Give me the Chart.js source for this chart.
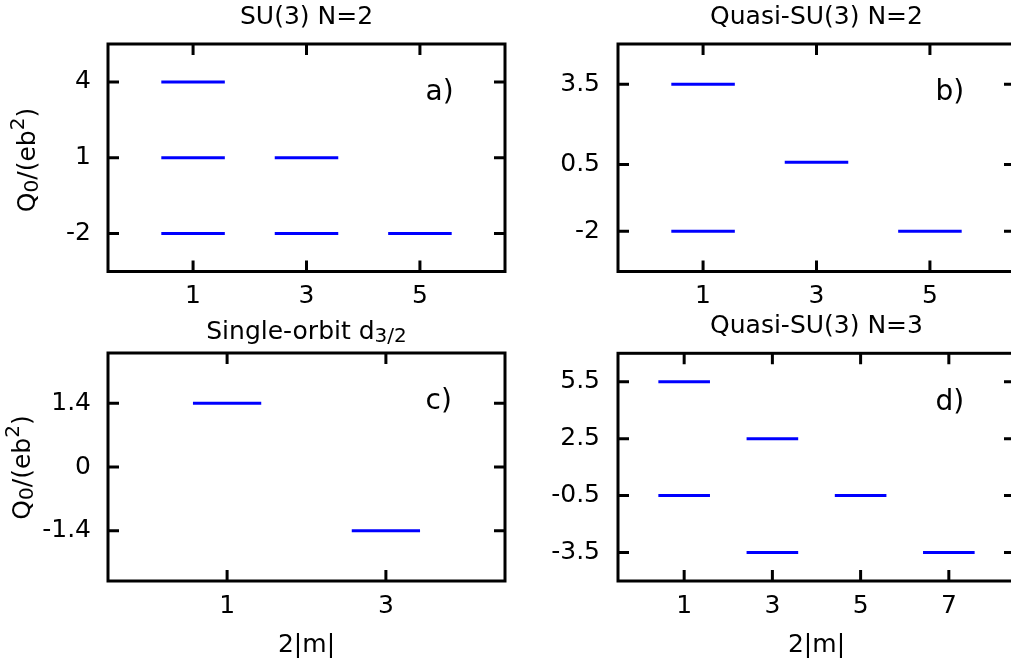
<!DOCTYPE html>
<html lang="en">
<head>
<meta charset="utf-8" />
<title>Q0 levels per 2|m|</title>
<style>
html,body{margin:0;padding:0;background:#fff;overflow:hidden;width:1011px;height:666px}
canvas{position:absolute}
</style>
</head>
<body>
<canvas id="pa" width="520" height="310" style="left:0;top:0"></canvas>
<canvas id="pb" width="510" height="310" style="left:520px;top:0"></canvas>
<canvas id="pc" width="520" height="356" style="left:0;top:310px"></canvas>
<canvas id="pd" width="510" height="356" style="left:520px;top:310px"></canvas>

<script src="https://cdn.jsdelivr.net/npm/chart.js@4.4.1"></script>
<script>
/* ─── data: 2|m| of each level and its Q0 (e b^2) ─── */
const suX   = [1, 1, 1, 3, 3, 5];
const suQ   = [4, 1, -2, 1, -2, -2];
const qs2X  = [1, 1, 3, 5];
const qs2Q  = [3.5, -2, 0.58, -2];
const d32X  = [1, 3];
const d32Q  = [1.4, -1.4];
const qs3X  = [1, 1, 3, 3, 5, 7];
const qs3Q  = [5.5, -0.5, 2.5, -3.5, -0.5, -3.5];

/* tick labels */
const suTicksX  = [1, 3, 5];
const suTicksY  = [-2, 1, 4];
const qs2TicksX = [1, 3, 5];
const qs2TicksY = [-2, 0.5, 3.5];
const d32TicksX = [1, 3];
const d32TicksY = [-1.4, 0, 1.4];
const qs3TicksX = [1, 3, 5, 7];
const qs3TicksY = [-3.5, -0.5, 2.5, 5.5];

/* titles with sub/superscripts: [text, 'sub'|'sup'|undefined] */
const yTitle   = [['Q'], ['0','sub'], ['/(eb'], ['2','sup'], [')']];
const suTitle  = [['SU(3) N=2']];
const qs2Title = [['Quasi-SU(3) N=2']];
const d32Title = [['Single-orbit d'], ['3/2','sub']];
const qs3Title = [['Quasi-SU(3) N=3']];

const FONT = '"DejaVu Sans", Verdana, sans-serif';
const FS = 25;
const TAG_FS = 28;
Chart.defaults.font.family = FONT;
Chart.defaults.font.size = FS;
Chart.defaults.color = '#000';

const TICK = 11;   // inward tick length, px

/* draws a line of text with small raised/lowered parts, centred on (x,y) */
function drawRich(ctx, parts, x, y, rotate){
    ctx.save();
    ctx.translate(x, y);
    if (rotate) ctx.rotate(-Math.PI/2);
    ctx.fillStyle = '#000';
    ctx.textBaseline = 'middle';
    ctx.textAlign = 'left';
    const fontOf = p => (p[1] ? FS*0.8 : FS) + 'px ' + FONT;
    let w = 0;
    parts.forEach(p=>{ ctx.font = fontOf(p); w += ctx.measureText(p[0]).width; });
    let cx = -w/2;
    parts.forEach(p=>{
        ctx.font = fontOf(p);
        const dy = p[1]==='sub' ? FS*0.2 : p[1]==='sup' ? -FS*0.38 : 0;
        ctx.fillText(p[0], cx, dy);
        cx += ctx.measureText(p[0]).width;
    });
    ctx.restore();
}

/* box, mirrored inward ticks, titles and the a)/b)/c)/d) tag */
const framePlugin = {
    id:'frame',
    afterDraw(chart, args, opts){
        const {ctx, chartArea:{left,top,right,bottom}, scales:{x,y}} = chart;
        ctx.save();
        ctx.strokeStyle = '#000';
        ctx.lineWidth = 3;
        ctx.lineCap = 'butt';
        ctx.beginPath();
        x.ticks.forEach(t=>{
            const px = x.getPixelForValue(t.value);
            ctx.moveTo(px,bottom); ctx.lineTo(px,bottom-TICK);
            ctx.moveTo(px,top);    ctx.lineTo(px,top+TICK);
        });
        y.ticks.forEach(t=>{
            const py = y.getPixelForValue(t.value);
            ctx.moveTo(left,py);  ctx.lineTo(left+TICK,py);
            ctx.moveTo(right,py); ctx.lineTo(right-TICK,py);
        });
        ctx.stroke();
        ctx.strokeRect(left,top,right-left,bottom-top);
        ctx.font = TAG_FS + 'px ' + FONT;
        ctx.fillStyle = '#000';
        ctx.textAlign = 'left';
        ctx.textBaseline = 'middle';
        ctx.fillText(opts.tag, left+(right-left)*0.80, top+(bottom-top)*0.215);
        ctx.restore();

        drawRich(ctx, opts.title, (left+right)/2, opts.titleY, false);
        if (opts.yTitleX) drawRich(ctx, yTitle, opts.yTitleX, opts.yTitleY, true);
    }
};

function makePanel(p){
    // one short horizontal dataset per level
    const datasets = p.xs.map((c,i)=>({
        data:[{x:c-p.half, y:p.qs[i]}, {x:c+p.half, y:p.qs[i]}],
        borderColor:'#0000ff',
        borderWidth:3,
        borderCapStyle:'butt',
        pointRadius:0,
        fill:false
    }));

    new Chart(document.getElementById(p.id),{
        type:'line',
        data:{datasets},
        plugins:[framePlugin],
        options:{
            responsive:false,
            animation:false,
            events:[],
            layout:{padding:{left:0,right:15,top:p.top,bottom:0}},
            scales:{
                x:{
                    type:'linear',
                    min:p.xMin, max:p.xMax,
                    afterBuildTicks:s=>{ s.ticks = p.ticksX.map(v=>({value:v})); },
                    afterFit:s=>{ s.height = p.xHeight; },
                    grid:{display:false, drawTicks:false},
                    border:{display:false},
                    ticks:{padding:10, maxRotation:0},
                    title:{display:p.showXTitle, text:'2|m|', padding:{top:0,bottom:6}}
                },
                y:{
                    type:'linear',
                    min:p.yMin, max:p.yMax,
                    afterBuildTicks:s=>{ s.ticks = p.ticksY.map(v=>({value:v})); },
                    afterFit:s=>{ s.width = p.yWidth; },
                    grid:{display:false, drawTicks:false},
                    border:{display:false},
                    ticks:{padding:p.yPad}
                }
            },
            plugins:{
                legend:{display:false},
                tooltip:{enabled:false},
                title:{display:false},
                frame:{tag:p.tag, title:p.title, titleY:p.titleY,
                       yTitleX:p.yTitleX, yTitleY:p.yTitleY}
            }
        }
    });
}

makePanel({id:'pa', xs:suX, qs:suQ, ticksX:suTicksX, ticksY:suTicksY,
    xMin:-0.5, xMax:6.5, yMin:-3.5, yMax:5.5, half:0.56,
    title:suTitle, titleY:17, tag:'a)', top:44,
    yWidth:108, xHeight:38.5, yPad:17, yTitleX:28, yTitleY:160, showXTitle:false});

makePanel({id:'pb', xs:qs2X, qs:qs2Q, ticksX:qs2TicksX, ticksY:qs2TicksY,
    xMin:-0.5, xMax:6.5, yMin:-3.5, yMax:5, half:0.56,
    title:qs2Title, titleY:17, tag:'b)', top:44,
    yWidth:98, xHeight:38.5, yPad:18, yTitleX:0, showXTitle:false});

makePanel({id:'pc', xs:d32X, qs:d32Q, ticksX:d32TicksX, ticksY:d32TicksY,
    xMin:-0.5, xMax:4.5, yMin:-2.5, yMax:2.5, half:0.43,
    title:d32Title, titleY:22, tag:'c)', top:43,
    yWidth:108, xHeight:85, yPad:17, yTitleX:23, yTitleY:157.5, showXTitle:true});

makePanel({id:'pd', xs:qs3X, qs:qs3Q, ticksX:qs3TicksX, ticksY:qs3TicksY,
    xMin:-0.5, xMax:8.5, yMin:-5, yMax:7, half:0.585,
    title:qs3Title, titleY:16.5, tag:'d)', top:43.3,
    yWidth:98, xHeight:85, yPad:18, yTitleX:0, showXTitle:true});
</script>
</body>
</html>
